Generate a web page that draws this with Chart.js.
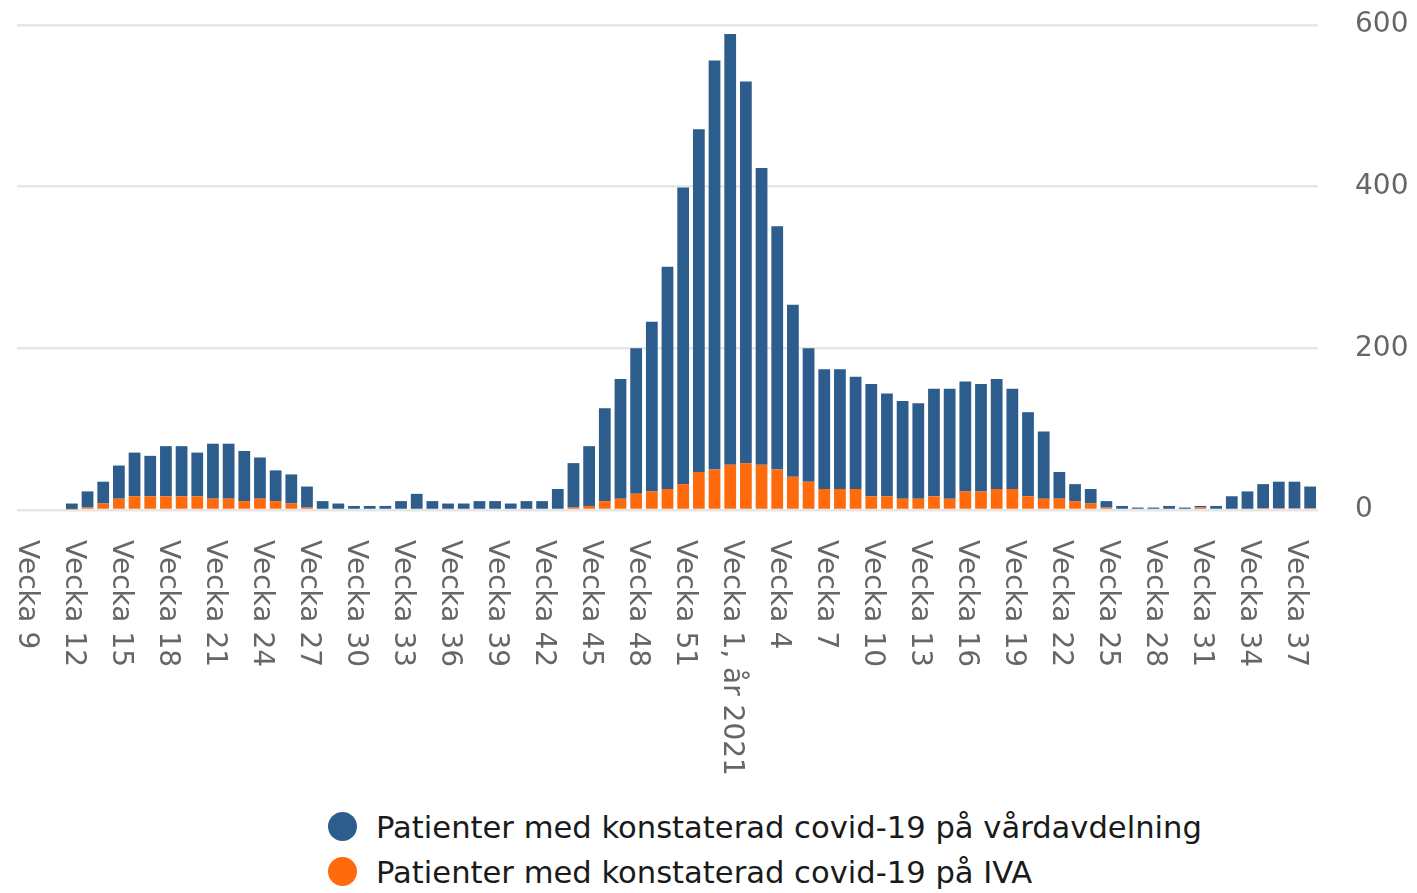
<!DOCTYPE html>
<html>
<head>
<meta charset="utf-8">
<script src="https://cdn.jsdelivr.net/npm/chart.js@4/dist/chart.umd.min.js"></script>
<style>
  html, body { margin: 0; padding: 0; background: #ffffff; }
  #wrap { position: relative; width: 1417px; height: 893px; overflow: hidden; font-family: "DejaVu Sans", sans-serif; }
  #c { position: absolute; left: 0; top: 0; }
  .leg { position: absolute; left: 328px; font-size: 30.6px; color: #1a1a1a; white-space: nowrap; line-height: 36px; }
  .leg span.dot { display: inline-block; width: 29px; height: 29px; border-radius: 50%; vertical-align: middle; margin-right: 19px; position: relative; top: -3px; }
</style>
</head>
<body>
<div id="wrap">
  <canvas id="c" width="1417" height="800"></canvas>
  <div id="legend"></div>
</div>
<script>
const categories = [
  "Vecka 9","Vecka 10","Vecka 11","Vecka 12","Vecka 13","Vecka 14","Vecka 15","Vecka 16","Vecka 17","Vecka 18",
  "Vecka 19","Vecka 20","Vecka 21","Vecka 22","Vecka 23","Vecka 24","Vecka 25","Vecka 26","Vecka 27","Vecka 28",
  "Vecka 29","Vecka 30","Vecka 31","Vecka 32","Vecka 33","Vecka 34","Vecka 35","Vecka 36","Vecka 37","Vecka 38",
  "Vecka 39","Vecka 40","Vecka 41","Vecka 42","Vecka 43","Vecka 44","Vecka 45","Vecka 46","Vecka 47","Vecka 48",
  "Vecka 49","Vecka 50","Vecka 51","Vecka 52","Vecka 53",
  "Vecka 1, år 2021","Vecka 2","Vecka 3","Vecka 4","Vecka 5","Vecka 6","Vecka 7","Vecka 8","Vecka 9","Vecka 10",
  "Vecka 11","Vecka 12","Vecka 13","Vecka 14","Vecka 15","Vecka 16","Vecka 17","Vecka 18","Vecka 19","Vecka 20",
  "Vecka 21","Vecka 22","Vecka 23","Vecka 24","Vecka 25","Vecka 26","Vecka 27","Vecka 28","Vecka 29","Vecka 30",
  "Vecka 31","Vecka 32","Vecka 33","Vecka 34","Vecka 35","Vecka 36","Vecka 37","Vecka 38"
];

// Patienter på vårdavdelning (stacked above IVA)
const vardavdelning = [
  0,0,0,7,20,27,41,54,50,62,62,54,68,68,62,51,38,36,26,
  11,8,5,5,5,11,20,11,8,8,11,11,8,11,11,26,
  55,74,115,148,180,210,275,367,424,506,
  533,472,367,301,213,165,148,148,139,139,
  127,121,118,133,136,136,133,136,124,104,
  83,33,21,18,8,5,3,3,5,3,
  2,5,17,23,30,33,33,27
];

// Patienter på IVA
const iva = [
  0,0,0,1,3,8,14,17,17,17,17,17,14,14,11,14,11,8,3,
  0,0,0,0,0,0,0,0,0,0,0,0,0,0,0,0,
  3,5,11,14,20,23,26,32,47,50,
  56,58,56,50,41,35,26,26,26,17,
  17,14,14,17,14,23,23,26,26,17,
  14,14,11,8,3,0,0,0,0,0,
  3,0,0,0,2,2,2,2
];

const yTicks = [0, 200, 400, 600];

const seriesNames = [
  "Patienter med konstaterad covid-19 på vårdavdelning",
  "Patienter med konstaterad covid-19 på IVA"
];
const seriesColors = ["#2d5d8c", "#ff6a0d"];

const xLabelPlugin = {
  id: 'xLabels',
  afterDraw(chart) {
    const xs = chart.scales.x;
    const ctx = chart.ctx;
    ctx.save();
    ctx.font = '28px "DejaVu Sans"';
    ctx.fillStyle = '#666666';
    ctx.textAlign = 'left';
    ctx.textBaseline = 'middle';
    categories.forEach((lab, i) => {
      if (i % 3 !== 0) return;
      const x = xs.getPixelForValue(i);
      ctx.save();
      ctx.translate(x + 1, chart.chartArea.bottom + 30);
      ctx.rotate(Math.PI / 2);
      ctx.fillText(lab, 0, 0);
      ctx.restore();
    });
    ctx.restore();
  }
};

const chart = new Chart(document.getElementById('c'), {
  type: 'bar',
  data: {
    labels: categories,
    datasets: [
      { label: seriesNames[1], data: iva, backgroundColor: seriesColors[1], borderWidth: 0 },
      { label: seriesNames[0], data: vardavdelning, backgroundColor: seriesColors[0], borderWidth: 0 }
    ]
  },
  options: {
    responsive: false,
    animation: false,
    devicePixelRatio: 1,
    layout: { padding: { top: 25, left: 17, right: 0, bottom: 0 } },
    datasets: { bar: { categoryPercentage: 1.0, barPercentage: 0.75 } },
    plugins: { legend: { display: false }, tooltip: { enabled: false } },
    scales: {
      x: {
        stacked: true,
        grid: { display: false },
        border: { display: false },
        ticks: { display: false },
        afterFit(scale) { scale.height = 290; scale.paddingLeft = 0; scale.paddingRight = 0; }
      },
      y: {
        stacked: true,
        position: 'right',
        min: 0,
        max: 600,
        afterBuildTicks(scale) { scale.ticks = yTicks.map(v => ({ value: v })); },
        grid: { color: '#e6e6e6', lineWidth: 2.5, drawTicks: false },
        border: { display: false },
        ticks: {
          padding: 37,
          color: '#666666',
          font: { family: 'DejaVu Sans', size: 28 }
        },
        afterFit(scale) { scale.width = 99; scale.paddingTop = 0; scale.paddingBottom = 0; }
      }
    }
  },
  plugins: [xLabelPlugin]
});

// legend (order as in the original: vårdavdelning first)
const legend = document.getElementById('legend');
[0, 1].forEach((k, row) => {
  const d = document.createElement('div');
  d.className = 'leg';
  d.style.top = (810 + row * 45) + 'px';
  const dot = document.createElement('span');
  dot.className = 'dot';
  dot.style.background = seriesColors[k];
  d.appendChild(dot);
  d.appendChild(document.createTextNode(seriesNames[k]));
  legend.appendChild(d);
});
</script>
</body>
</html>
